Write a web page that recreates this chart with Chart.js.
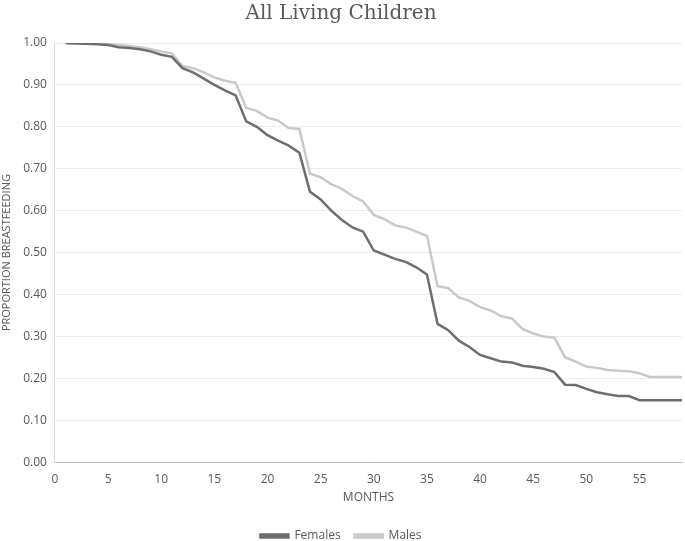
<!DOCTYPE html>
<html>
<head>
<meta charset="utf-8">
<script src="https://cdn.jsdelivr.net/npm/chart.js@4/dist/chart.umd.min.js"></script>
<style>
  html, body { margin: 0; padding: 0; background: #fff; }
  #wrap { width: 685px; height: 541px; }
</style>
</head>
<body>
<div id="wrap"><canvas id="chart"></canvas></div>
<script>
// months 1..59
const months = [];
for (let m = 1; m <= 59; m++) months.push(m);

const females = [
  1.000, 0.999, 0.998, 0.997, 0.995, 0.990, 0.988, 0.985, 0.980, 0.972,
  0.967, 0.940, 0.930, 0.915, 0.900, 0.887, 0.875, 0.813, 0.800, 0.780,
  0.767, 0.755, 0.738, 0.645, 0.627, 0.600, 0.578, 0.560, 0.550, 0.505,
  0.495, 0.485, 0.478, 0.465, 0.448, 0.330, 0.315, 0.290, 0.275, 0.256,
  0.248, 0.240, 0.238, 0.230, 0.227, 0.223, 0.215, 0.185, 0.184, 0.175,
  0.167, 0.162, 0.158, 0.158, 0.148, 0.148, 0.148, 0.148, 0.148
];

const males = [
  1.000, 0.999, 0.999, 0.998, 0.998, 0.995, 0.993, 0.990, 0.985, 0.980,
  0.975, 0.945, 0.940, 0.930, 0.918, 0.910, 0.905, 0.845, 0.838, 0.822,
  0.815, 0.797, 0.795, 0.688, 0.680, 0.663, 0.652, 0.635, 0.622, 0.590,
  0.580, 0.565, 0.560, 0.550, 0.540, 0.420, 0.415, 0.393, 0.385, 0.370,
  0.362, 0.348, 0.343, 0.318, 0.307, 0.300, 0.297, 0.250, 0.240, 0.228,
  0.225, 0.220, 0.218, 0.217, 0.212, 0.203, 0.203, 0.203, 0.203
];

const textColor = '#595959';

function toPoints(vals) {
  return months.map((m, i) => ({ x: m, y: vals[i] }));
}

new Chart(document.getElementById('chart').getContext('2d'), {
  type: 'line',
  data: {
    datasets: [{
      label: 'Females',
      data: toPoints(females),
      borderColor: '#6e6e6e',
      backgroundColor: '#6e6e6e',
      borderWidth: 2.5,
      pointRadius: 0,
      tension: 0
    }, {
      label: 'Males',
      data: toPoints(males),
      borderColor: '#c9c9c9',
      backgroundColor: '#c9c9c9',
      borderWidth: 2.5,
      pointRadius: 0,
      tension: 0
    }]
  },
  options: {
    responsive: true,
    maintainAspectRatio: false,
    animation: false,
    layout: { padding: { left: 0, right: 3, top: 0, bottom: -11 } },
    plugins: {
      title: {
        display: true,
        text: 'All Living Children',
        color: textColor,
        font: { family: 'DejaVu Serif', size: 20, weight: 'normal' },
        padding: { top: 2, bottom: 17 }
      },
      legend: {
        position: 'bottom',
        labels: {
          color: textColor,
          font: { family: 'Open Sans', size: 12 },
          boxWidth: 28,
          boxHeight: 3,
          padding: 14
        }
      },
      tooltip: { enabled: false }
    },
    scales: {
      x: {
        type: 'linear',
        min: 0,
        max: 59,
        afterBuildTicks: axis => {
          axis.ticks = axis.ticks.filter(t => t.value % 5 === 0);
        },
        ticks: { stepSize: 5, color: textColor, font: { family: 'Open Sans', size: 12 }, maxRotation: 0, padding: 2 },
        grid: { display: false },
        border: { color: '#bfbfbf', width: 1 },
        title: {
          display: true,
          text: 'MONTHS',
          color: textColor,
          font: { family: 'Open Sans', size: 12 },
          padding: { top: 2, bottom: 11 }
        }
      },
      y: {
        min: 0,
        max: 1,
        ticks: {
          stepSize: 0.1,
          color: textColor,
          font: { family: 'Open Sans', size: 12 },
          padding: 8,
          callback: v => v.toFixed(2)
        },
        grid: { color: '#ececf2', drawTicks: false },
        border: { color: '#d9d9d9', width: 1 },
        title: {
          display: true,
          text: 'PROPORTION BREASTFEEDING',
          color: textColor,
          font: { family: 'Open Sans', size: 11 },
          padding: { top: 0, bottom: 2 }
        }
      }
    }
  }
});
</script>
</body>
</html>
